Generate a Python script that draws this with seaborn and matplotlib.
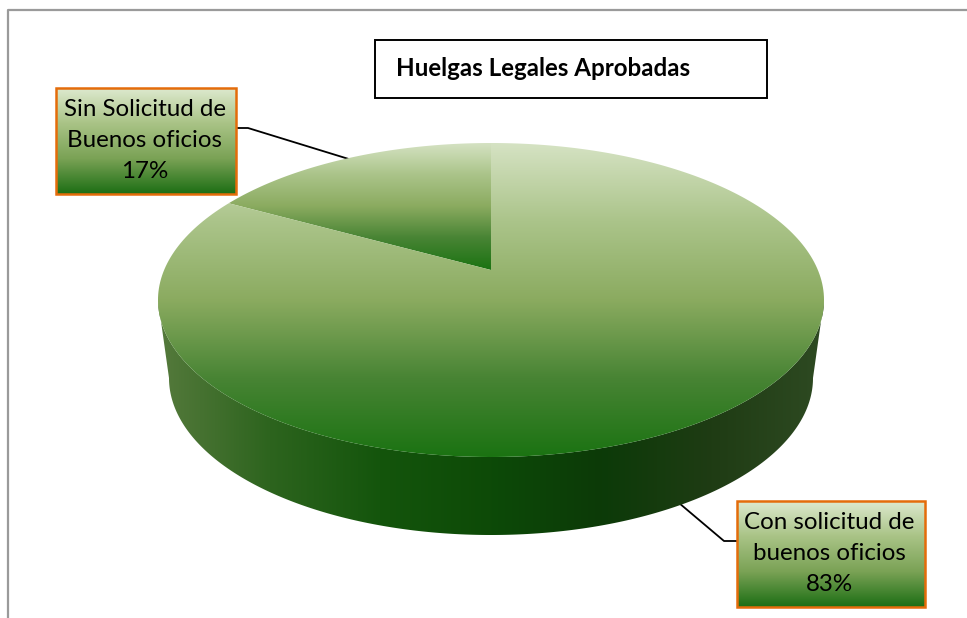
import numpy as np
import matplotlib
matplotlib.use('Agg')
import matplotlib.pyplot as plt
from matplotlib.patches import Polygon, Rectangle
from matplotlib.transforms import Affine2D
import seaborn as sns

titulo = 'Huelgas Legales Aprobadas'
categorias = ['Sin Solicitud de\nBuenos oficios', 'Con solicitud de\nbuenos oficios']
porcentajes = [17, 83]

sns.set_theme(style='white')
plt.rcParams['font.family'] = ['Lato', 'DejaVu Sans']

# degradados
grad_top = sns.blend_palette(['#D6E3C4', '#ABC48A', '#8BAB60', '#488434', '#1B7312'], as_cmap=True)
grad_caja = sns.blend_palette(['#DDE9CE', '#A9C386', '#7AA255', '#1C6E14'], as_cmap=True)
grad_lado = sns.blend_palette(['#557A3C', '#2D641E', '#14550C', '#0D4A07', '#0C3A08', '#1F3C14', '#2E4A22'], as_cmap=True)

fig = plt.figure(figsize=(9.67, 6.18), dpi=100)
ax = fig.add_axes([0, 0, 1, 1])

# geometria del disco en pixeles
cx, cy, a, b = 491, 300, 333, 157
a2, cy2 = 322, 378
c = 0.191  # perspectiva: el centro sube


def proyecta(xy):
    u, v = xy[:, 0], xy[:, 1]
    d = 1 + c * v
    X = u * np.sqrt(1 - c ** 2) / d
    Y = (v + c) / d
    return np.column_stack([cx + a * X, cy - b * Y])


def relleno(x0, x1, y0, y1, cmap, clip, horizontal=False, z=2):
    g = np.linspace(0, 1, 256)
    g = g[None, :] if horizontal else g[:, None]
    im = ax.imshow(g, cmap=cmap, extent=(x0, x1, y1, y0), origin='upper', aspect='auto', zorder=z, vmin=0, vmax=1)
    im.set_clip_path(clip)


# las porciones salen de ax.pie y luego se proyectan
wedges, _ = ax.pie(porcentajes, startangle=90, counterclock=True, radius=1, center=(0, 0))
poligonos = []
for w in wedges:
    path = w.get_path().transformed(Affine2D().scale(2000))
    poly = path.to_polygons()[0] / 2000
    poligonos.append(proyecta(poly))
    w.remove()

ax.set_aspect('auto')
ax.set_xlim(0, 967)
ax.set_ylim(618, 0)
ax.set_axis_off()

# marco del grafico (sin lado derecho visible)
ax.plot([8, 8, 967], [618, 10, 10], color='#9A9A9A', lw=1.6, zorder=1)

# lineas guia
ax.plot([236, 248, 352], [128, 128, 160], color='black', lw=1.3, zorder=1.5)
ax.plot([679, 724, 737], [503, 541, 541], color='black', lw=1.3, zorder=1.5)

# lateral del cilindro
t = np.linspace(np.pi, 2 * np.pi, 300)
arriba = np.column_stack([cx + a * np.cos(t), cy - b * np.sin(t)])
abajo = np.column_stack([cx + a2 * np.cos(t), cy2 - b * np.sin(t)])[::-1]
lado = Polygon(np.vstack([arriba, abajo]), closed=True, fc='none', ec='none', transform=ax.transData)
ax.add_patch(lado)
relleno(cx - a, cx + a, cy, cy2 + b, grad_lado, lado, horizontal=True)

# cara superior
for pts in poligonos:
    p = Polygon(pts, closed=True, fc='none', ec='none', transform=ax.transData)
    ax.add_patch(p)
    relleno(pts[:, 0].min(), pts[:, 0].max(), pts[:, 1].min(), pts[:, 1].max(), grad_top, p, z=3)

# titulo
ax.add_patch(Rectangle((375, 40), 392, 58, fc='white', ec='black', lw=1.4, zorder=5))
ax.text(396, 68, titulo, fontsize=17.4, fontweight='bold', va='center', ha='left', color='black', zorder=6)

# etiquetas
cajas = [(56, 88, 180, 106), (737, 501, 188, 106)]
for (x, y, w, h), cat, pct in zip(cajas, categorias, porcentajes):
    r = Rectangle((x, y), w, h, fc='none', ec='none', transform=ax.transData)
    ax.add_patch(r)
    relleno(x, x + w, y, y + h, grad_caja, r, z=5)
    ax.add_patch(Rectangle((x, y), w, h, fc='none', ec='#E46C0A', lw=1.8, zorder=6))
    ax.text(x + w / 2 - 1.5, y + h / 2 - 0.5, f'{cat}\n{pct}%', fontsize=17.4, ha='center', va='center',
            color='black', linespacing=1.6, zorder=7)

ax.set_xlim(0, 967)
ax.set_ylim(618, 0)
fig.savefig('out.png', dpi=100, facecolor='white')
